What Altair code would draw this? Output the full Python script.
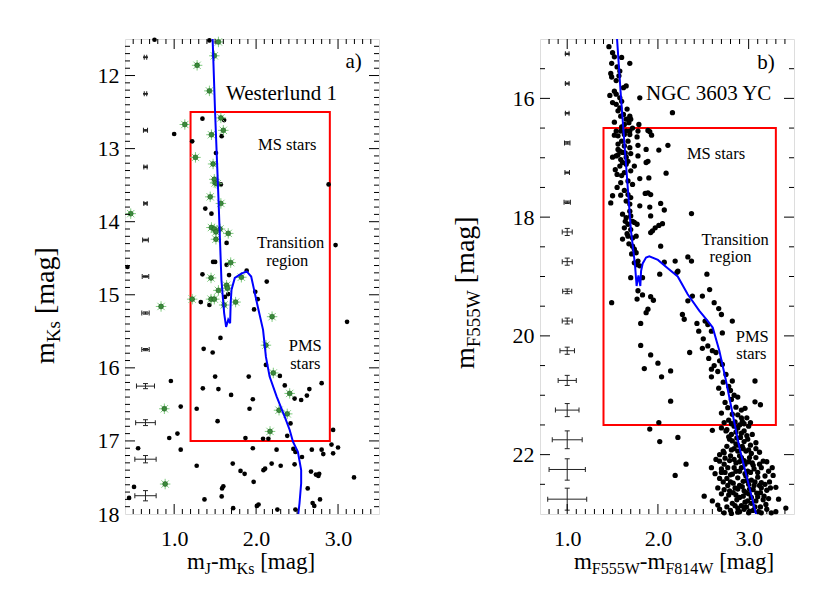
import altair as alt
import pandas as pd

FONT = "Liberation Serif"
W, H = 254, 475

# ---------------- panel a) Westerlund 1 ----------------
a_dot_x = [0.76, 1.43, 1.345, 1.61, 1.00, 1.58, 1.22, 1.51, 1.57, 2.885, 1.38, 1.455, 1.64, 2.97, 1.475, 1.50,
           1.64, 0.43, 1.345, 1.67, 1.885, 2.13, 1.99, 1.325, 1.43, 1.62, 1.66, 2.02, 1.975, 3.11, 1.565, 1.36,
           1.47, 2.12, 1.50, 1.91, 2.29, 0.96, 2.80, 1.35, 1.54, 2.35, 2.65, 1.695, 2.62, 2.47, 2.55, 1.96,
           1.08, 1.275, 1.92, 1.53, 2.42, 1.04, 0.94, 1.87, 2.085, 2.15, 2.38, 2.94, 2.92, 3.00, 0.56, 1.08,
           1.96, 2.25, 2.455, 2.48, 2.68, 2.80, 2.56, 2.82, 2.94, 1.275, 1.715, 2.19, 2.30, 2.47, 2.09, 2.11,
           1.81, 1.86, 2.67, 2.73, 2.77, 2.76, 3.195, 1.97, 1.60, 1.585, 0.51, 2.63, 1.37, 1.58, 2.78, 0.45,
           2.69, 2.71, 2.03, 2.01, 1.72, 2.26, 2.48]
a_dot_y = [11.51, 11.52, 12.59, 12.61, 12.80, 12.83, 12.90, 13.06, 13.49, 13.49, 13.82, 13.89, 14.29, 14.32, 14.55, 14.55,
           14.59, 14.62, 14.72, 14.73, 14.67, 14.82, 14.96, 15.10, 15.14, 15.03, 14.99, 15.06, 15.20, 15.37, 15.59, 15.74,
           15.79, 15.96, 16.12, 16.12, 16.11, 16.18, 16.21, 16.28, 16.29, 16.24, 16.29, 16.37, 16.38, 16.42, 16.44, 16.43,
           16.53, 16.56, 16.56, 16.73, 16.76, 16.90, 16.96, 16.96, 16.97, 16.97, 16.93, 16.85, 17.05, 17.09, 17.10, 17.12,
           17.10, 17.12, 17.11, 17.15, 17.12, 17.12, 17.22, 17.18, 17.17, 17.34, 17.31, 17.31, 17.34, 17.32, 17.40, 17.38,
           17.41, 17.45, 17.42, 17.46, 17.45, 17.48, 17.50, 17.56, 17.62, 17.65, 17.63, 17.65, 17.80, 17.76, 17.80, 17.78,
           17.85, 17.89, 17.87, 17.89, 17.92, 17.94, 17.94]
a_star_x = [1.54, 1.49, 1.28, 1.43, 1.13, 1.57, 1.60, 1.455, 1.26, 1.475, 1.49, 1.50, 1.525, 1.44, 1.57, 0.47,
            1.455, 1.49, 1.51, 1.56, 1.66, 1.51, 1.69, 1.45, 1.82, 1.64, 1.65, 1.54, 1.22, 1.45, 1.49, 1.61,
            1.75, 0.84, 2.195, 2.12, 2.21, 2.41, 0.88, 2.28, 2.38, 2.17, 0.89]
a_star_y = [11.54, 11.73, 11.86, 12.21, 12.67, 12.58, 12.75, 12.81, 13.12, 13.21, 13.42, 13.47, 13.48, 13.66, 13.75, 13.89,
            14.08, 14.10, 14.14, 14.10, 14.16, 14.24, 14.56, 14.77, 14.76, 14.87, 14.91, 14.94, 15.06, 15.06, 15.06, 15.14,
            15.10, 15.16, 15.30, 15.69, 16.07, 16.35, 16.56, 16.58, 16.63, 16.87, 17.59]
a_iso_x = [1.468, 1.50, 1.54, 1.577, 1.61, 1.634, 1.66, 1.683, 1.69, 1.70, 1.74, 1.82, 1.885, 1.94, 1.975, 2.02,
           2.085, 2.12, 2.165, 2.25, 2.35, 2.41, 2.45, 2.51, 2.55, 2.55, 2.53, 2.51]
a_iso_y = [11.45, 12.52, 13.66, 14.80, 15.25, 15.44, 15.34, 15.39, 15.11, 14.93, 14.77, 14.71, 14.68, 14.75, 14.93, 15.16,
           15.48, 15.85, 16.12, 16.39, 16.67, 16.85, 17.01, 17.15, 17.40, 17.58, 17.85, 18.05]
a_err_y = [11.75, 12.25, 12.75, 13.25, 13.75, 14.25, 14.75, 15.25, 15.75, 16.25, 16.75, 17.25, 17.75]
a_err_dx = [0.015, 0.015, 0.025, 0.02, 0.02, 0.035, 0.04, 0.045, 0.045, 0.11, 0.12, 0.13, 0.13]
a_err_dy = [0.005, 0.005, 0.01, 0.01, 0.01, 0.01, 0.01, 0.015, 0.015, 0.035, 0.04, 0.05, 0.07]
a_err_x = 0.65
a_box = [1.2, 2.9, 12.5, 17.0]
a_big_text = ["a)", "Westerlund 1"]
a_big_x = [3.19, 2.31]
a_big_y = [11.90, 12.33]
a_small_text = ["MS stars", "Transition", "region", "PMS", "stars"]
a_small_x = [2.38, 2.42, 2.38, 2.60, 2.60]
a_small_y = [13.02, 14.355, 14.61, 15.765, 16.02]

# ---------------- panel b) NGC 3603 YC ----------------
b_dot_x = [1.46, 1.50, 1.49, 1.60, 1.69, 1.55, 1.58, 1.48, 1.49, 1.54, 1.65, 1.52, 1.54, 1.58, 1.50, 1.54,
           1.58, 1.56, 1.59, 1.62, 1.65, 1.69, 1.70, 1.80, 2.16, 1.68, 1.63, 1.79, 1.54, 1.59, 1.65, 1.69,
           1.78, 1.89, 1.91, 1.52, 1.56, 1.63, 1.69, 1.93, 1.77, 1.60, 1.67, 1.56, 1.63, 1.69, 1.78, 1.87,
           2.01, 2.11, 1.58, 1.61, 1.70, 1.54, 1.50, 1.56, 1.59, 1.65, 1.67, 1.78, 1.89, 1.87, 1.61, 1.58,
           1.65, 1.74, 1.55, 1.63, 1.70, 1.80, 1.90, 2.09, 1.59, 1.67, 1.50, 1.59, 1.67, 1.70, 1.86, 1.89,
           1.92, 1.48, 1.65, 1.69, 1.80, 1.91, 2.03, 2.07, 2.37, 1.61, 1.65, 1.70, 1.92, 1.64, 1.72, 1.74,
           1.77, 1.67, 1.63, 1.70, 1.97, 2.01, 2.05, 1.94, 1.61, 1.67, 1.72, 1.76, 1.92, 2.03, 1.72, 1.74,
           1.76, 1.78, 1.74, 1.77, 1.80, 2.07, 2.19, 2.33, 2.37, 2.22, 2.54, 1.70, 1.83,
           2.02, 2.21, 1.49, 1.78, 1.77, 1.83, 1.92, 1.95, 1.89, 1.87, 1.81, 2.33, 2.38, 2.49, 2.57, 2.62,
           2.67, 2.70, 2.27, 2.29, 2.43, 2.52, 2.55, 2.59, 2.71, 2.82, 2.49, 2.55, 2.60, 2.64, 2.35, 1.81,
           1.92, 2.00, 1.85, 2.04, 2.14, 2.59, 2.59, 2.68, 2.71, 2.75, 2.67, 2.71, 2.80, 2.82, 3.07, 2.81,
           2.88, 2.14, 3.07, 3.13, 2.77, 2.82, 2.88, 2.92, 2.98, 2.73, 2.81, 1.91, 2.01, 2.22, 2.02, 2.60,
           2.70, 2.75, 2.81, 2.88, 2.95, 2.82, 2.91, 2.99, 2.68, 2.73, 2.80, 2.88, 2.97, 3.03, 2.68, 2.73,
           2.84, 2.92, 3.01, 3.08, 3.16, 2.59, 2.77, 2.86, 2.92, 2.99, 3.14, 3.22, 2.31, 2.19, 2.68, 2.80,
           2.88, 2.94, 3.03, 3.14, 3.23, 2.73, 2.79, 2.85, 2.95, 3.05, 3.14, 2.51, 2.75, 2.90, 2.99, 3.10,
           3.19, 2.92, 2.95, 3.05, 2.73, 3.25, 3.41, 2.81, 2.88, 3.01, 3.14,
           2.85, 2.90, 2.95, 3.00, 2.78, 2.86, 2.93, 3.02, 3.08, 2.84, 2.90, 2.96, 3.05, 3.10, 2.82, 2.97,
           3.06, 3.00, 2.90, 3.09, 3.00, 2.86, 2.82, 3.03, 3.13, 2.88, 3.17, 3.20, 2.76, 2.70, 3.27, 3.30,
           3.33, 2.66,
           2.78, 2.84, 2.93, 3.02, 2.76, 2.86, 2.92, 2.98, 3.04, 2.79, 2.87, 2.95, 2.76, 2.81, 2.88, 2.94,
           3.00, 3.08, 3.12, 2.72, 2.74, 2.79, 2.86, 2.90, 2.95, 3.00, 3.04, 3.12, 3.20, 2.64, 2.70, 2.74,
           2.80, 2.84, 2.90, 2.96, 3.02, 3.06, 3.10, 3.18, 3.26, 2.63, 2.72, 2.77, 2.83, 2.88, 2.93, 2.98,
           3.01, 3.07, 3.12, 3.18, 3.24, 2.66, 2.70, 2.78, 2.83, 2.87, 2.94, 2.97, 3.03, 3.08, 3.13, 3.16,
           3.22, 2.60, 2.68, 2.76, 2.80, 2.85, 2.90, 2.97, 3.00, 3.07, 3.11, 3.20, 3.30, 2.96,
           2.78, 2.84, 2.74, 2.86, 2.92, 2.70, 2.96, 2.66, 2.72, 2.62, 2.56, 2.50, 2.45,
           1.52, 1.57, 1.62, 1.47, 1.60, 1.66, 1.52, 1.60, 1.72, 1.56, 1.64, 1.53, 1.60, 1.72, 1.63, 1.55,
           1.69, 1.66, 1.71, 1.68]
b_dot_y = [15.13, 15.23, 15.41, 15.31, 15.41, 15.47, 15.54, 15.58, 15.64, 15.70, 15.79, 15.88, 15.93, 15.99, 16.07, 16.10,
           16.16, 16.21, 16.30, 16.27, 16.35, 16.30, 16.35, 15.99, 16.24, 16.41, 16.44, 16.44, 16.55, 16.55, 16.55, 16.55,
           16.55, 16.54, 16.56, 16.62, 16.63, 16.61, 16.61, 16.62, 16.65, 16.72, 16.72, 16.77, 16.80, 16.83, 16.79, 16.86,
           16.87, 16.79, 16.89, 16.91, 16.93, 16.97, 16.99, 16.95, 17.03, 16.99, 17.06, 16.97, 17.06, 17.08, 17.08, 17.14,
           17.11, 17.14, 17.28, 17.25, 17.22, 17.35, 17.34, 17.26, 17.42, 17.39, 17.64, 17.63, 17.62, 17.67, 17.60, 17.59,
           17.62, 17.76, 17.73, 17.78, 17.81, 17.83, 17.77, 17.88, 17.94, 17.95, 18.01, 17.98, 17.98, 18.07, 18.07, 18.09,
           18.12, 18.12, 18.18, 18.21, 18.18, 18.14, 18.11, 18.23, 18.37, 18.32, 18.35, 18.32, 18.26, 18.49, 18.49, 18.54,
           18.60, 18.74, 18.77, 18.80, 18.82, 18.76, 18.74, 18.67, 18.74, 18.91, 18.96, 19.02, 19.02,
           18.96, 18.93, 19.44, 19.24, 19.38, 19.31, 19.34, 19.40, 19.55, 19.61, 19.79, 19.41, 19.33, 19.33, 19.22, 19.44,
           19.54, 19.64, 19.64, 19.72, 19.79, 19.75, 19.81, 19.92, 19.95, 19.75, 20.21, 20.17, 20.25, 20.28, 20.28, 20.16,
           20.32, 20.46, 20.55, 20.69, 20.59, 20.56, 20.69, 20.42, 20.48, 20.65, 20.88, 20.97, 20.92, 20.76, 20.76, 21.07,
           21.03, 21.10, 21.11, 21.16, 21.21, 21.32, 21.33, 21.38, 21.38, 21.46, 21.48, 21.57, 21.46, 21.71, 21.78, 21.59,
           21.55, 21.60, 21.66, 21.55, 21.60, 21.77, 21.71, 21.74, 22.00, 21.97, 22.02, 21.94, 21.94, 21.98, 22.11, 22.16,
           22.08, 22.05, 22.05, 22.05, 22.11, 22.22, 22.22, 22.28, 22.22, 22.28, 22.22, 22.28, 22.16, 22.35, 22.40, 22.46,
           22.39, 22.45, 22.43, 22.47, 22.46, 22.59, 22.61, 22.56, 22.61, 22.59, 22.56, 22.70, 22.75, 22.72, 22.78, 22.71,
           22.84, 22.86, 22.92, 22.94, 22.98, 22.98, 22.90, 22.99, 22.97, 22.95, 22.98,
           21.45, 21.50, 21.48, 21.52, 21.70, 21.82, 21.86, 21.84, 21.80, 21.90, 22.12, 22.16, 22.18, 22.30, 22.33, 22.36,
           22.52, 22.50, 22.52, 22.65, 22.66, 22.68, 22.82, 22.82, 22.88, 22.90, 22.70, 22.60, 22.40, 22.30, 22.35, 22.55,
           22.75, 22.85,
           21.42, 21.52, 21.44, 21.46, 21.58, 21.62, 21.64, 21.68, 21.66, 21.74, 21.72, 21.78, 21.86, 21.92, 21.84, 21.90,
           21.92, 21.90, 21.96, 21.94, 22.06, 22.10, 22.14, 22.02, 22.10, 22.12, 22.14, 22.16, 22.12, 22.08, 22.24, 22.30,
           22.34, 22.22, 22.28, 22.32, 22.30, 22.24, 22.38, 22.36, 22.22, 22.32, 22.46, 22.52, 22.48, 22.58, 22.54, 22.44,
           22.58, 22.46, 22.52, 22.50, 22.56, 22.56, 22.66, 22.68, 22.64, 22.76, 22.70, 22.64, 22.72, 22.78, 22.64, 22.76,
           22.74, 22.78, 22.92, 22.88, 22.94, 22.86, 22.96, 22.88, 22.98, 22.88, 22.96, 22.92, 22.96, 22.80,
           20.85, 21.00, 21.12, 21.20, 21.25, 21.30, 21.22, 20.60, 20.78, 20.50, 20.38, 20.05, 19.92,
           15.30, 15.62, 15.82, 15.95, 16.05, 16.18, 16.40, 16.48, 16.50, 16.86, 16.92, 17.20, 17.30, 17.45, 17.55, 17.50,
           17.90, 18.28, 18.62, 18.45]
b_iso_x = [1.545, 1.593, 1.648, 1.703, 1.747, 1.765, 1.785, 1.806, 1.814, 1.832, 1.869, 1.905, 2.00, 2.108, 2.218, 2.328,
           2.457, 2.55, 2.604, 2.677, 2.751, 2.824, 2.898, 2.99, 3.09]
b_iso_y = [14.9, 15.99, 17.11, 18.23, 18.80, 19.16, 18.98, 19.16, 18.91, 18.78, 18.68, 18.66, 18.72, 18.86, 19.00, 19.30,
           19.58, 19.75, 19.86, 20.25, 20.76, 21.32, 21.88, 22.44, 23.05]
b_err_y = [15.25, 15.75, 16.25, 16.75, 17.25, 17.75, 18.25, 18.75, 19.25, 19.75, 20.25, 20.75, 21.25, 21.75, 22.25, 22.75]
b_err_dx = [0.02, 0.02, 0.02, 0.03, 0.025, 0.035, 0.055, 0.055, 0.05, 0.055, 0.08, 0.10, 0.13, 0.165, 0.20, 0.215]
b_err_dy = [0.01, 0.01, 0.01, 0.02, 0.01, 0.02, 0.06, 0.06, 0.04, 0.05, 0.06, 0.085, 0.11, 0.15, 0.18, 0.185]
b_err_x = 1.0
b_box = [1.4, 3.3, 16.5, 21.5]
b_big_text = ["b)", "NGC 3603 YC"]
b_big_x = [3.19, 2.56]
b_big_y = [15.51, 16.03]
b_small_text = ["MS stars", "Transition", "region", "PMS", "stars"]
b_small_x = [2.64, 2.85, 2.80, 3.04, 3.03]
b_small_y = [17.02, 18.47, 18.76, 20.10, 20.39]

# axis titles: (text, is_subscript)
a_xtitle = [("m", 0), ("J", 1), ("-m", 0), ("Ks", 1), (" ", 0), ("[mag]", 0)]
a_ytitle = [("m", 0), ("Ks", 1), (" ", 0), ("[mag]", 0)]
b_xtitle = [("m", 0), ("F555W", 1), ("-m", 0), ("F814W", 1), (" ", 0), ("[mag]", 0)]
b_ytitle = [("m", 0), ("F555W", 1), (" ", 0), ("[mag]", 0)]

CHAR_W = {'m': 0.778, 'K': 0.722, 's': 0.389, ' ': 0.25, '[': 0.333, 'a': 0.444, 'g': 0.5, ']': 0.333,
          'J': 0.389, '-': 0.333, 'F': 0.556, '5': 0.5, 'W': 0.944, '8': 0.5, '1': 0.5, '4': 0.5}
ONE = pd.DataFrame({"k": [0]})
STAR = "M-1,0L1,0M0,-1L0,1M-0.7,-0.7L0.7,0.7M-0.7,0.7L0.7,-0.7"


def twidth(s, size):
    return sum(CHAR_W.get(c, 0.5) for c in s) * size


def title_layers(parts, vertical, start, base, size, sub_size, drop):
    out = []
    pos = start
    for txt, sub in parts:
        fs = sub_size if sub else size
        off = drop if sub else 0
        if txt.strip():
            if vertical:
                mk = alt.Chart(ONE).mark_text(text=txt, angle=270, align="left", baseline="alphabetic",
                                              font=FONT, fontSize=fs, color="black")
                out.append(mk.encode(x=alt.value(base + off), y=alt.value(pos)))
            else:
                mk = alt.Chart(ONE).mark_text(text=txt, align="left", baseline="alphabetic",
                                              font=FONT, fontSize=fs, color="black")
                out.append(mk.encode(x=alt.value(pos), y=alt.value(base + off)))
        w = twidth(txt, fs)
        pos = pos - w if vertical else pos + w
    return out


def frange(a, b, step):
    n = int(round((b - a) / step))
    return [round(a + i * step, 3) for i in range(n + 1)]


def panel(xdom, ydom, dots, stars, iso, err, box, big, small, xmaj, xmin, ymaj, ymin,
          ylabels, xtitle, ytitle, xt_center, yt_start, yt_base, anchor=False, dot_size=22):
    xs = alt.Scale(domain=xdom, nice=False, zero=False)
    ys = alt.Scale(domain=ydom, nice=False, zero=False, reverse=True)
    xax = alt.Axis(values=[1.0, 2.0, 3.0], format=".1f", title=None, ticks=False, domain=False, grid=False,
                   labelFont=FONT, labelFontSize=22, labelPadding=14, labelColor="black", labelFlush=False)
    yax = alt.Axis(values=ylabels, format="d", title=None, ticks=False, domain=False, grid=False,
                   labelFont=FONT, labelFontSize=22, labelPadding=6, labelColor="black")

    def X(f):
        return alt.X(f, type="quantitative", scale=xs, axis=xax)

    def Y(f):
        return alt.Y(f, type="quantitative", scale=ys, axis=yax)

    layers = []
    bdf = pd.DataFrame({"x1": [box[0]], "x2": [box[1]], "y1": [box[2]], "y2": [box[3]]})
    layers.append(alt.Chart(bdf).mark_rect(fillOpacity=0, stroke="#ff0000", strokeWidth=2).encode(
        x=X("x1"), x2="x2", y=Y("y1"), y2="y2"))

    edf = pd.DataFrame({"x": [err[0]] * len(err[1]), "y": err[1]})
    edf["xl"] = edf["x"] - pd.Series(err[2])
    edf["xh"] = edf["x"] + pd.Series(err[2])
    edf["yl"] = edf["y"] - pd.Series(err[3])
    edf["yh"] = edf["y"] + pd.Series(err[3])
    ecol = "#222222"
    layers.append(alt.Chart(edf).mark_rule(color=ecol, strokeWidth=1).encode(x=X("xl"), x2="xh", y=Y("y")))
    layers.append(alt.Chart(edf).mark_rule(color=ecol, strokeWidth=1).encode(x=X("x"), y=Y("yl"), y2="yh"))
    for f in ("xl", "xh"):
        layers.append(alt.Chart(edf).mark_tick(orient="vertical", size=5, thickness=1, color=ecol, opacity=1)
                      .encode(x=X(f), y=Y("y")))
    for f in ("yl", "yh"):
        layers.append(alt.Chart(edf).mark_tick(orient="horizontal", size=5, thickness=1, color=ecol, opacity=1)
                      .encode(x=X("x"), y=Y(f)))

    ddf = pd.DataFrame({"x": dots[0], "y": dots[1]})
    layers.append(alt.Chart(ddf).mark_circle(size=dot_size, color="black", opacity=1).encode(x=X("x"), y=Y("y")))

    if stars is not None:
        sdf = pd.DataFrame({"x": stars[0], "y": stars[1]})
        layers.append(alt.Chart(sdf).mark_point(shape=STAR, size=110, stroke="#80cc80", strokeWidth=1,
                                                filled=False, opacity=1).encode(x=X("x"), y=Y("y")))
        layers.append(alt.Chart(sdf).mark_circle(size=24, color="#3a8a3a", stroke="#1d5a1d", strokeWidth=0.6,
                                                 opacity=1).encode(x=X("x"), y=Y("y")))

    idf = pd.DataFrame({"x": iso[0], "y": iso[1], "o": list(range(len(iso[0])))})
    layers.append(alt.Chart(idf).mark_line(color="#0000ff", strokeWidth=2, clip=True).encode(
        x=X("x"), y=Y("y"), order="o:Q"))

    # frame ticks (inward)
    for vals, L in ((xmin, 5), (xmaj, 10)):
        tdf = pd.DataFrame({"v": vals})
        layers.append(alt.Chart(tdf).mark_rule(color="black", strokeWidth=1).encode(
            x=X("v"), y=alt.value(H), y2=alt.value(H - L)))
        layers.append(alt.Chart(tdf).mark_rule(color="black", strokeWidth=1).encode(
            x=X("v"), y=alt.value(0), y2=alt.value(L)))
    for vals, L in ((ymin, 5), (ymaj, 10)):
        tdf = pd.DataFrame({"v": vals})
        layers.append(alt.Chart(tdf).mark_rule(color="black", strokeWidth=1).encode(
            y=Y("v"), x=alt.value(0), x2=alt.value(L)))
        layers.append(alt.Chart(tdf).mark_rule(color="black", strokeWidth=1).encode(
            y=Y("v"), x=alt.value(W), x2=alt.value(W - L)))

    gdf = pd.DataFrame({"t": big[0], "x": big[1], "y": big[2]})
    layers.append(alt.Chart(gdf).mark_text(font=FONT, fontSize=21, color="black", align="center",
                                           baseline="alphabetic").encode(x=X("x"), y=Y("y"), text="t:N"))
    smdf = pd.DataFrame({"t": small[0], "x": small[1], "y": small[2]})
    layers.append(alt.Chart(smdf).mark_text(font=FONT, fontSize=16.5, color="black", align="center",
                                            baseline="alphabetic").encode(x=X("x"), y=Y("y"), text="t:N"))

    # axis titles
    xt_w = sum(twidth(t, 16 if s else 23) for t, s in xtitle)
    layers += title_layers(xtitle, False, xt_center - xt_w / 2, H + 55, 23, 16, 5)
    layers += title_layers(ytitle, True, yt_start, yt_base, 28, 19, 6)

    if anchor:
        layers.append(alt.Chart(ONE).mark_rule(color="white", strokeWidth=1).encode(
            x=alt.value(-115.5), y=alt.value(-29.5), y2=alt.value(-28.5)))

    return alt.layer(*layers).properties(width=W, height=H)


a_xmaj = [1.0, 2.0, 3.0]
a_xmin = [v for v in frange(0.5, 3.4, 0.1) if v not in a_xmaj]
a_ymaj = [12, 13, 14, 15, 16, 17]
a_ymin = [v for v in frange(11.6, 17.9, 0.1) if v not in a_ymaj]
b_xmaj = [1.0, 2.0, 3.0]
b_xmin = [v for v in frange(0.8, 3.4, 0.1) if v not in b_xmaj]
b_ymaj = [16, 18, 20, 22]
b_ymin = [v for v in frange(15.5, 22.5, 0.5) if v not in b_ymaj]

left = panel([0.4, 3.5], [11.5, 18.0], (a_dot_x, a_dot_y), (a_star_x, a_star_y), (a_iso_x, a_iso_y),
             (a_err_x, a_err_y, a_err_dx, a_err_dy), a_box, (a_big_text, a_big_x, a_big_y),
             (a_small_text, a_small_x, a_small_y), a_xmaj, a_xmin, a_ymaj, a_ymin,
             [12, 13, 14, 15, 16, 17, 18], a_xtitle, a_ytitle, 126, 325, -71, anchor=True, dot_size=22)
right = panel([0.7, 3.5], [15.0, 23.0], (b_dot_x, b_dot_y), None, (b_iso_x, b_iso_y),
              (b_err_x, b_err_y, b_err_dx, b_err_dy), b_box, (b_big_text, b_big_x, b_big_y),
              (b_small_text, b_small_x, b_small_y), b_xmaj, b_xmin, b_ymaj, b_ymin,
              [16, 18, 20, 22], b_xtitle, b_ytitle, 134, 330, -66, dot_size=28)

chart = alt.hconcat(left, right, spacing=161).properties(bounds="flush", padding=0).configure_view(
    stroke="black", strokeWidth=1.2).configure(background="white")

chart.save("out.html", embed_options={"renderer": "svg", "actions": False})
